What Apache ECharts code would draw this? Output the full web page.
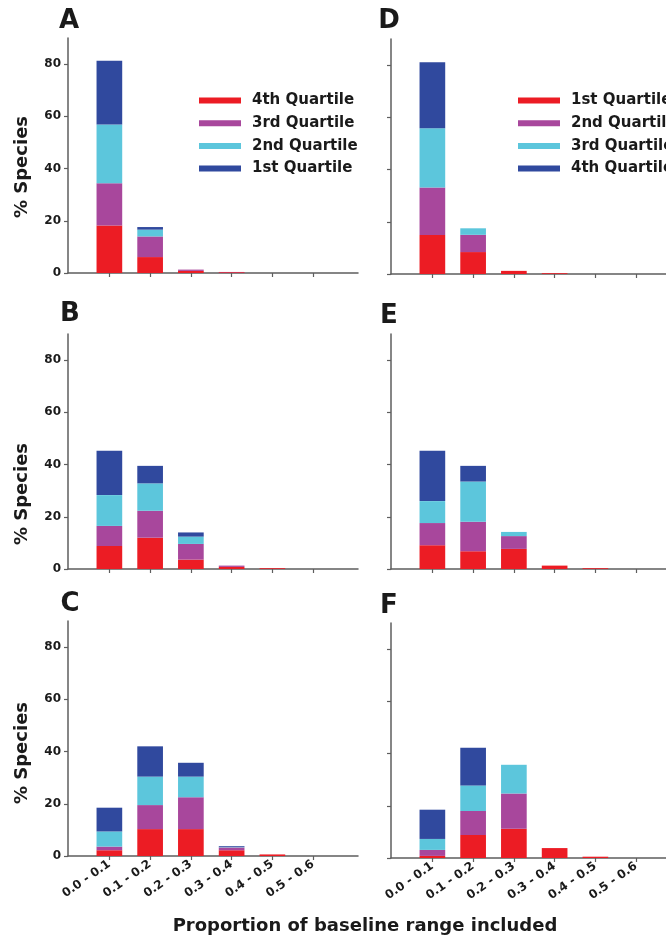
<!DOCTYPE html>
<html>
<head>
<meta charset="utf-8">
<script src="https://cdn.jsdelivr.net/npm/echarts@6/dist/echarts.min.js"></script>
<style>
  html, body { margin: 0; padding: 0; background: #fff; }
  #chart { width: 666px; height: 942px; }
</style>
</head>
<body>
<div id="chart"></div>
<script>
// ---------- DATA ----------
const categories = ['0.0 - 0.1', '0.1 - 0.2', '0.2 - 0.3', '0.3 - 0.4', '0.4 - 0.5', '0.5 - 0.6'];
const yTicks = [0, 20, 40, 60, 80];
const yMax = 90;

const leftNames  = ['4th Quartile', '3rd Quartile', '2nd Quartile', '1st Quartile'];
const rightNames = ['1st Quartile', '2nd Quartile', '3rd Quartile', '4th Quartile'];

// Panel A (bottom -> top: 4th, 3rd, 2nd, 1st)
const A_q4 = [18.2, 6.1, 0.8, 0.3, 0, 0];
const A_q3 = [16.2, 7.9, 0.5, 0.1, 0, 0];
const A_q2 = [22.5, 2.6, 0, 0, 0, 0];
const A_q1 = [24.4, 1.0, 0, 0, 0, 0];
// Panel B
const B_q4 = [8.8, 12.0, 3.6, 0.8, 0.3, 0];
const B_q3 = [7.7, 10.3, 6.0, 0.5, 0, 0];
const B_q2 = [11.8, 10.5, 2.8, 0, 0, 0];
const B_q1 = [17.0, 6.7, 1.6, 0, 0, 0];
// Panel C
const C_q4 = [2.2, 10.3, 10.3, 2.2, 0.6, 0];
const C_q3 = [1.4, 9.2, 12.2, 1.1, 0, 0];
const C_q2 = [5.8, 10.9, 7.9, 0.2, 0, 0];
const C_q1 = [9.1, 11.6, 5.3, 0.3, 0, 0];
// Panel D (bottom -> top: 1st, 2nd, 3rd, 4th)
const D_q1 = [14.9, 8.4, 1.2, 0.3, 0, 0];
const D_q2 = [18.2, 6.6, 0, 0, 0, 0];
const D_q3 = [22.7, 2.5, 0, 0, 0, 0];
const D_q4 = [25.3, 0, 0, 0, 0, 0];
// Panel E
const E_q1 = [9.1, 6.8, 7.7, 1.3, 0.3, 0];
const E_q2 = [8.5, 11.3, 4.9, 0, 0, 0];
const E_q3 = [8.4, 15.4, 1.6, 0, 0, 0];
const E_q4 = [19.3, 6.0, 0, 0, 0, 0];
// Panel F
const F_q1 = [0.8, 8.8, 11.2, 3.8, 0.5, 0];
const F_q2 = [2.3, 9.2, 13.5, 0, 0, 0];
const F_q3 = [4.2, 9.8, 11.0, 0, 0, 0];
const F_q4 = [11.2, 14.4, 0, 0, 0, 0];

// ---------- STYLE / LAYOUT ----------
const colors = ['#ec1c24', '#a8479c', '#5cc6dc', '#30499e'];
const FONT = 'DejaVu Sans';
const axisColor = '#5e5e5e';
const plotH = 235;

const panels = [
  { id: 'A', left: 68,  zero: 273, series: [A_q4, A_q3, A_q2, A_q1], names: leftNames,  yLabels: true,  xLabels: false, letter: [69, 21],  ytitle: 167 },
  { id: 'B', left: 68,  zero: 569, series: [B_q4, B_q3, B_q2, B_q1], names: leftNames,  yLabels: true,  xLabels: false, letter: [70, 314], ytitle: 494 },
  { id: 'C', left: 68,  zero: 856, series: [C_q4, C_q3, C_q2, C_q1], names: leftNames,  yLabels: true,  xLabels: true,  letter: [70, 604], ytitle: 753 },
  { id: 'D', left: 391, zero: 274, series: [D_q1, D_q2, D_q3, D_q4], names: rightNames, yLabels: false, xLabels: false, letter: [389, 21] },
  { id: 'E', left: 391, zero: 569, series: [E_q1, E_q2, E_q3, E_q4], names: rightNames, yLabels: false, xLabels: false, letter: [389, 316] },
  { id: 'F', left: 391, zero: 858, series: [F_q1, F_q2, F_q3, F_q4], names: rightNames, yLabels: false, xLabels: true,  letter: [389, 606] }
];

const grid = [], xAxis = [], yAxis = [], series = [], graphic = [];

panels.forEach(function (p) {
  const top = p.zero - plotH;
  // wide grid: axis frame (y axis + full-length x axis line)
  const gWide = grid.length;
  grid.push({ left: p.left, top: top, width: 290, height: plotH });
  xAxis.push({
    gridIndex: gWide, type: 'value', min: 0, max: 1,
    axisLine: { show: true, lineStyle: { color: axisColor, width: 1.5 } },
    axisTick: { show: false }, axisLabel: { show: false }, splitLine: { show: false }
  });
  yAxis.push({
    gridIndex: gWide, type: 'value', min: 0, max: yMax,
    axisLine: { show: true, lineStyle: { color: axisColor, width: 1.5 } },
    axisTick: { show: true, length: 4, customValues: yTicks, lineStyle: { color: axisColor, width: 1.2 } },
    axisLabel: { show: p.yLabels, customValues: yTicks, margin: 7, color: '#1a1a1a',
                 fontFamily: FONT, fontWeight: 'bold', fontSize: 12 },
    splitLine: { show: false }
  });
  // narrow grid: the category bands holding the bars
  const gBar = grid.length;
  grid.push({ left: p.left + 21, top: top, width: 244.5, height: plotH });
  const xi = xAxis.length;
  xAxis.push({
    gridIndex: gBar, type: 'category', data: categories, boundaryGap: true,
    axisLine: { show: false },
    axisTick: { show: true, alignWithLabel: true, length: 4, lineStyle: { color: axisColor, width: 1.2 } },
    axisLabel: { show: p.xLabels, interval: 0, rotate: 35, margin: 7, color: '#1a1a1a',
                 fontFamily: FONT, fontWeight: 'bold', fontSize: 12 },
    splitLine: { show: false }
  });
  const yi = yAxis.length;
  yAxis.push({ gridIndex: gBar, type: 'value', min: 0, max: yMax, show: false });

  p.series.forEach(function (vals, k) {
    series.push({
      type: 'bar', name: p.names[k], stack: 'panel' + p.id,
      xAxisIndex: xi, yAxisIndex: yi, data: vals, barWidth: '63%',
      itemStyle: { color: colors[k] }, emphasis: { disabled: true }, animation: false
    });
  });

  graphic.push({
    type: 'text', x: p.letter[0], y: p.letter[1],
    style: { text: p.id, font: 'bold 26px "' + FONT + '"', fill: '#1a1a1a', textAlign: 'center', textVerticalAlign: 'middle' }
  });
  if (p.ytitle) {
    graphic.push({
      type: 'text', x: 22, y: p.ytitle, rotation: Math.PI / 2,
      style: { text: '% Species', font: 'bold 18px "' + FONT + '"', fill: '#1a1a1a', textAlign: 'center', textVerticalAlign: 'middle' }
    });
  }
});

graphic.push({
  type: 'text', x: 365, y: 926,
  style: { text: 'Proportion of baseline range included', font: 'bold 18px "' + FONT + '"', fill: '#1a1a1a', textAlign: 'center', textVerticalAlign: 'middle' }
});

function legendFor(names, left) {
  return {
    left: left, top: 93, orient: 'vertical', icon: 'rect', padding: 0,
    itemWidth: 42, itemHeight: 6, itemGap: 7.7, selectedMode: false,
    data: names.map(function (n, i) { return { name: n, itemStyle: { color: colors[i] } }; }),
    textStyle: { fontFamily: FONT, fontWeight: 'bold', fontSize: 15, color: '#1a1a1a', lineHeight: 15, padding: [0, 0, 0, 6] }
  };
}

const chart = echarts.init(document.getElementById('chart'), null, { renderer: 'canvas' });
chart.setOption({
  animation: false,
  backgroundColor: '#ffffff',
  grid: grid, xAxis: xAxis, yAxis: yAxis, series: series,
  legend: [legendFor(leftNames, 199), legendFor(rightNames, 518)],
  graphic: graphic
});
</script>
</body>
</html>
